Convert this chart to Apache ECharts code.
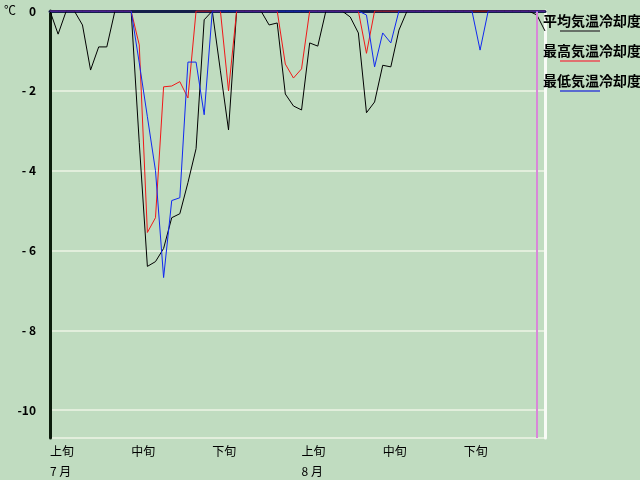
<!DOCTYPE html>
<html><head><meta charset="utf-8">
<script src="https://cdn.jsdelivr.net/npm/echarts@6/dist/echarts.min.js"></script>
<style>html,body{margin:0;padding:0;background:#c0dcc0}#c{width:640px;height:480px}</style>
</head><body><div id="c"></div>
<script>
// categories: 7/1 .. 8/31
const months = [7, 8];
const monthDays = [31, 31];
const categories = [];
months.forEach((m, i) => { for (let d = 1; d <= monthDays[i]; d++) categories.push(m + '/' + d); });

// dekad tick labels
const tickIndex = [0, 10, 20, 31, 41, 51];
const tickLabels = ['上旬', '中旬', '下旬', '上旬', '中旬', '下旬'];
const monthLabelIndex = [0, 31];
const monthLabels = ['7 月', '8 月'];

const seriesNames = ['平均気温冷却度', '最高気温冷却度', '最低気温冷却度'];

const avgCool = [
  0, -0.58, 0, 0, -0.35, -1.48, -0.9, -0.9, 0, 0,
  0, -3.3, -6.4, -6.28, -5.95, -5.18, -5.08, -4.3, -3.45, -0.22,
  0, -1.5, -2.98, 0, 0, 0, 0, -0.35, -0.3, -2.08,
  -2.38, -2.48, -0.8, -0.88, 0, 0, 0, -0.15, -0.55, -2.55,
  -2.28, -1.36, -1.4, -0.48, 0, 0, 0, 0, 0, 0,
  0, 0, 0, 0, 0, 0, 0, 0, 0, 0,
  -0.1, -0.5
];
const maxCool = [
  0, 0, 0, 0, 0, 0, 0, 0, 0, 0,
  0, -0.85, -5.55, -5.18, -1.9, -1.88, -1.77, -2.18, 0, 0,
  0, 0, -2.0, 0, 0, 0, 0, 0, 0, -1.33,
  -1.68, -1.45, 0, 0, 0, 0, 0, 0, 0, -1.06,
  0, 0, 0, 0, 0, 0, 0, 0, 0, 0,
  0, 0, 0, 0, 0, 0, 0, 0, 0, 0,
  0, 0
];
const minCool = [
  0, 0, 0, 0, 0, 0, 0, 0, 0, 0,
  0, -1.3, -2.65, -4.0, -6.68, -4.75, -4.68, -1.28, -1.28, -2.6,
  0, 0, 0, 0, 0, 0, 0, 0, 0, 0,
  0, 0, 0, 0, 0, 0, 0, 0, 0, -0.1,
  -1.4, -0.55, -0.8, 0, 0, 0, 0, 0, 0, 0,
  0, 0, 0, -0.98, 0, 0, 0, 0, 0, 0,
  0, 0
];
const markDayIndex = 60;

const yMin = -10.7, yMax = 0;
const colors = ['#000000', '#f01818', '#1028f0'];
const legendColors = ['#687068', '#e07070', '#5a6ad0'];

const chart = echarts.init(document.getElementById('c'), null, {renderer: 'canvas'});
const labelFont = '"Noto Sans CJK JP", "DejaVu Sans", sans-serif';

const graphics = [{
  type: 'text', left: 4, top: 4, z: 100,
  style: {text: '℃', font: '12px ' + labelFont, fill: '#000'}
}];
seriesNames.forEach((n, i) => {
  graphics.push({
    type: 'text', x: 543, y: 21 + i * 30, z: 100,
    style: {text: n, font: 'bold 14px ' + labelFont, fill: '#000', textVerticalAlign: 'middle'}
  });
  graphics.push({
    type: 'line', z: 100, shape: {x1: 560, y1: 31 + i * 30, x2: 600, y2: 31 + i * 30},
    style: {stroke: legendColors[i], lineWidth: 2}
  });
});

chart.setOption({
  animation: false,
  backgroundColor: '#c0dcc0',
  grid: {left: 50, right: 95, top: 11, bottom: 42},
  xAxis: [{
    type: 'category', data: categories, boundaryGap: false, position: 'bottom',
    axisLine: {show: true, lineStyle: {color: '#f8fbf6', width: 3}},
    axisTick: {show: false},
    splitLine: {show: false},
    axisLabel: {
      interval: (idx) => tickIndex.indexOf(idx) >= 0,
      align: 'left', margin: 3,
      formatter: (v, idx) => {
        const t = tickLabels[tickIndex.indexOf(idx)];
        const mi = monthLabelIndex.indexOf(idx);
        return '{d|' + t + '}' + (mi >= 0 ? '\n{m|' + monthLabels[mi] + '}' : '');
      },
      rich: {
        d: {fontSize: 12, lineHeight: 20, fontFamily: labelFont, color: '#000'},
        m: {fontSize: 12, lineHeight: 20, fontFamily: labelFont, color: '#000'}
      }
    }
  }, {
    type: 'category', data: categories, boundaryGap: false, position: 'top',
    axisLine: {show: true, lineStyle: {color: '#14204a', width: 3}},
    axisTick: {show: false}, axisLabel: {show: false}, splitLine: {show: false}
  }],
  yAxis: [{
    type: 'value', min: yMin, max: yMax, splitNumber: 5, position: 'left',
    axisLine: {show: true, lineStyle: {color: '#0c1c0c', width: 3}},
    axisTick: {show: false},
    splitLine: {show: true, lineStyle: {color: '#e2eedc', width: 2}},
    axisLabel: {
      showMinLabel: false, margin: 14,
      fontSize: 12, fontWeight: 'bold', fontFamily: labelFont, color: '#000',
      formatter: (v) => v === 0 ? '0' : (v > -10 ? '- ' + (-v) : String(v))
    }
  }, {
    type: 'value', min: yMin, max: yMax, position: 'right',
    axisLine: {show: true, lineStyle: {color: '#f8fbf6', width: 3}},
    axisTick: {show: false}, axisLabel: {show: false}, splitLine: {show: false}
  }],
  graphic: graphics,
  series: [
    {name: seriesNames[0], type: 'line', data: avgCool, symbol: 'none', z: 3,
     lineStyle: {color: colors[0], width: 1}},
    {name: seriesNames[1], type: 'line', data: maxCool, symbol: 'none', z: 4,
     lineStyle: {color: colors[1], width: 1}},
    {name: seriesNames[2], type: 'line', data: minCool, symbol: 'none', z: 5,
     lineStyle: {color: colors[2], width: 1},
     markLine: {symbol: 'none', silent: true, label: {show: false},
       lineStyle: {color: '#d888d8', width: 2, type: 'solid'},
       data: [{xAxis: markDayIndex}]}}
  ]
});
</script></body></html>
